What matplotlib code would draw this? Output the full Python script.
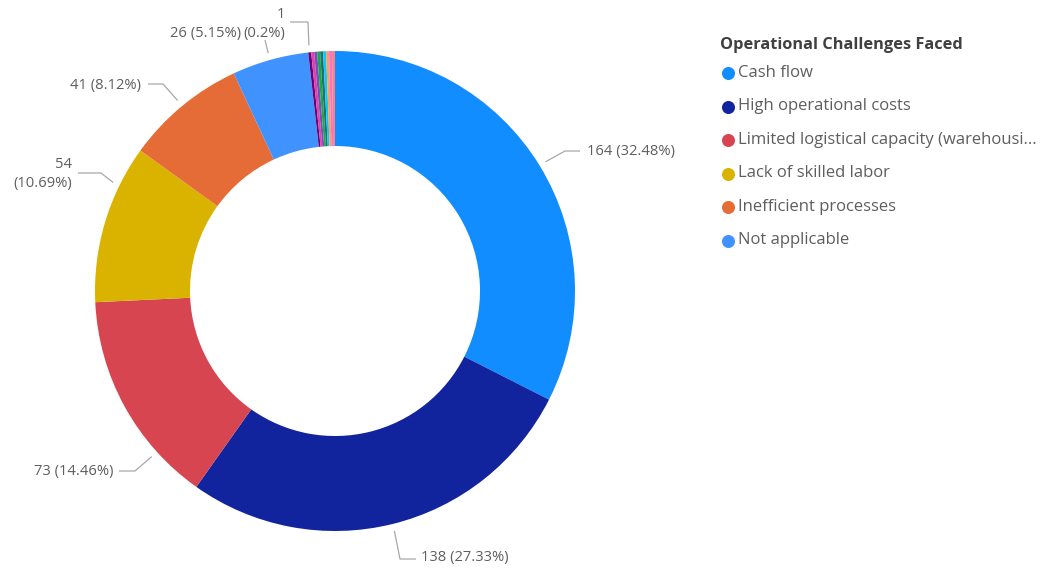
import matplotlib
matplotlib.use("Agg")
import matplotlib.pyplot as plt
import numpy as np

# Survey answers: operational challenges faced
categories = [
    "Cash flow",
    "High operational costs",
    "Limited logistical capacity (warehousi...",
    "Lack of skilled labor",
    "Inefficient processes",
    "Not applicable",
]
counts = [164, 138, 73, 54, 41, 26]
# nine further answers with a single response each
minor_counts = [1, 1, 1, 1, 1, 1, 1, 1, 1]

main_colors = ["#118DFF", "#12239E", "#D64550", "#D9B300", "#E66C37", "#4092FF"]
minor_colors = ["#6B007B", "#E044A7", "#744EC2", "#1AAB40", "#197278",
                "#15C6F4", "#FFA058", "#F472D0", "#FF8080"]

values = counts + minor_counts
colors = main_colors + minor_colors
total = sum(values)

W, H = 1042, 570
fig = plt.figure(figsize=(W / 100, H / 100), dpi=100)
ax = fig.add_axes([0, 0, 1, 1])

FONT = ["Open Sans", "DejaVu Sans"]
LABEL_COLOR = "#605E5C"
LEADER_COLOR = "#A8A8A8"


def py(y):
    """Convert a top-origin pixel row to axis coordinates."""
    return H - y


cx, cy, R, ring = 335, py(291), 240, 95
wedges, _ = ax.pie(values, colors=colors, radius=R, center=(cx, cy),
                   startangle=90, counterclock=False,
                   wedgeprops=dict(width=ring, linewidth=0))


def pct_text(v):
    p = f"{v / total * 100:.2f}".rstrip("0").rstrip(".")
    return f"({p}%)"


# label layout: wedge index, anchor angle shift, leader path, text position, alignment, split lines
label_layout = [
    (0, 0, [(565, 151), (580, 151)], (587, 152), "left", False),
    (1, 0, [(400, 559), (416, 559)], (421, 558), "left", False),
    (2, 13.4, [(135, 471), (119, 471)], (113, 471), "right", False),
    (3, -9.5, [(101, 173), (78, 173)], (72, 174), "right", True),
    (4, 0, [(163, 84), (148, 84)], (141, 85), "right", False),
    (5, 0, [(265, 40)], (241, 33), "right", False),
    (6, 0, [(308, 22), (290, 22)], (285, 24), "right", True),
]

for idx, shift, path, (tx, ty), ha, split in label_layout:
    w = wedges[idx]
    mid = np.deg2rad((w.theta1 + w.theta2) / 2 + shift)
    ax0 = cx + (R + 7) * np.cos(mid)
    ay0 = cy + (R + 7) * np.sin(mid)
    xs = [ax0] + [p[0] for p in path]
    ys = [ay0] + [py(p[1]) for p in path]
    ax.plot(xs, ys, color=LEADER_COLOR, lw=0.9, solid_capstyle="butt")
    v = values[idx]
    sep = "\n" if split else " "
    ax.text(tx, py(ty), f"{v}{sep}{pct_text(v)}", ha=ha, va="center",
            fontsize=10.6, color=LABEL_COLOR, family=FONT, linespacing=1.3)

ax.set_xlim(0, W)
ax.set_ylim(0, H)
ax.set_aspect("equal")
ax.axis("off")

# legend
fig.text(720 / W, 1 - 45 / H, "Operational Challenges Faced", ha="left",
         va="center", fontsize=11.8, fontweight="bold", color="#404040",
         family=FONT)
for i, (name, col) in enumerate(zip(categories, main_colors)):
    yy = 73 + i * 33.5
    ax.scatter([728], [py(yy)], s=88, color=col, linewidths=0, zorder=3)
    fig.text(737.5 / W, 1 - yy / H, name, ha="left", va="center",
             fontsize=12, color=LABEL_COLOR, family=FONT)

fig.savefig("out.png", dpi=100, facecolor="white")
